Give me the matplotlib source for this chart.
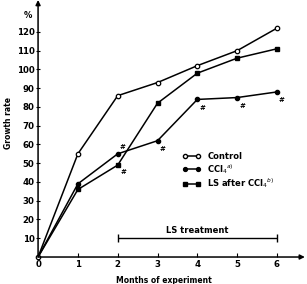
"""Growth rate over months of experiment."""
import matplotlib
matplotlib.use("Agg")
import matplotlib.pyplot as plt
from matplotlib.lines import Line2D

months = [0, 1, 2, 3, 4, 5, 6]
control = [0, 55, 86, 93, 102, 110, 122]
ccl4 = [0, 39, 55, 62, 84, 85, 88]
ls_after = [0, 36, 49, 82, 98, 106, 111]

y_ticks = [10, 20, 30, 40, 50, 60, 70, 80, 90, 100, 110, 120]
x_ticks = [0, 1, 2, 3, 4, 5, 6]

# months marked as significant (#)
ccl4_sig = [2, 3, 4, 5, 6]
ls_sig = [2]
treatment = [2, 6]

plt.rcParams['font.family'] = 'DejaVu Sans'
fig = plt.figure(figsize=(3.07, 2.84), dpi=100)
ax = fig.add_axes([0.124, 0.095, 0.869, 0.905])
ax.set_xlim(0, 6.7)
ax.set_ylim(0, 137)

lw = 1.1
ax.plot(months, control, color='black', lw=lw, marker='o', ms=3.2,
        mfc='white', mec='black', mew=0.9, clip_on=False)
ax.plot(months[1:], ccl4[1:], color='black', lw=lw, marker='o', ms=3,
        mfc='black', mec='black', clip_on=False)
ax.plot(months[1:], ls_after[1:], color='black', lw=lw, marker='s', ms=3,
        mfc='black', mec='black', clip_on=False)
ax.plot(months[:2], ccl4[:2], color='black', lw=lw)
ax.plot(months[:2], ls_after[:2], color='black', lw=lw)

# significance marks
for i in ccl4_sig:
    dy = 5 if i == 2 else -6
    ax.annotate('#', (months[i], ccl4[i]), xytext=(3.5, dy),
                textcoords='offset points', ha='center', va='center',
                fontsize=5, fontweight='bold')
for i in ls_sig:
    ax.annotate('#', (months[i], ls_after[i]), xytext=(4, -5),
                textcoords='offset points', ha='center', va='center',
                fontsize=5, fontweight='bold')

# LS treatment bracket
ax.errorbar([(treatment[0] + treatment[1]) / 2], [10],
            xerr=[(treatment[1] - treatment[0]) / 2], color='black',
            lw=1.0, capsize=3, capthick=1.0)
ax.text(4.0, 12, 'LS treatment', ha='center', va='bottom', fontsize=6,
        fontweight='bold')

# axes with arrows
for s in ax.spines.values():
    s.set_visible(False)
ax.annotate('', xy=(1.0, 0), xytext=(0, 0), xycoords='axes fraction',
            arrowprops=dict(arrowstyle='-|>', color='black', lw=1.1,
                            mutation_scale=7, shrinkA=0, shrinkB=0))
ax.annotate('', xy=(0, 1.0), xytext=(0, 0), xycoords='axes fraction',
            arrowprops=dict(arrowstyle='-|>', color='black', lw=1.1,
                            mutation_scale=7, shrinkA=0, shrinkB=0))

ax.set_xticks(x_ticks)
ax.set_yticks(y_ticks)
ax.tick_params(axis='x', direction='in', length=3, width=0.8, pad=2,
               labelsize=6.2)
ax.tick_params(axis='y', direction='inout', length=3, width=0.8, pad=1,
               labelsize=6.2)
for lab in ax.get_xticklabels() + ax.get_yticklabels():
    lab.set_fontweight('bold')

ax.text(-0.25, 128.5, '%', ha='center', va='center', fontsize=6,
        fontweight='bold')
ax.set_ylabel('Growth rate', fontsize=5.5, fontweight='bold')
ax.yaxis.set_label_coords(-0.095, 0.52)
ax.set_xlabel('Months of experiment', fontsize=5.5, fontweight='bold')
ax.xaxis.set_label_coords(0.47, -0.075)

handles = [
    Line2D([], [], color='black', lw=lw, marker='o', ms=3, mfc='white',
           mec='black'),
    Line2D([], [], color='black', lw=lw, marker='o', ms=2.8, mfc='black'),
    Line2D([], [], color='black', lw=lw, marker='s', ms=2.8, mfc='black'),
]
labels = ['Control', r'CCl$_4$$^{a)}$', r'LS after CCl$_4$$^{b)}$']
leg = ax.legend(handles, labels, loc='upper left', bbox_to_anchor=(3.62, 56),
                bbox_transform=ax.transData, frameon=False, numpoints=2,
                fontsize=6, handlelength=2.2, handletextpad=0.8,
                labelspacing=0.1, borderpad=0, borderaxespad=0)
for t in leg.get_texts():
    t.set_fontweight('bold')

fig.savefig('out.png', dpi=100, facecolor='white')
